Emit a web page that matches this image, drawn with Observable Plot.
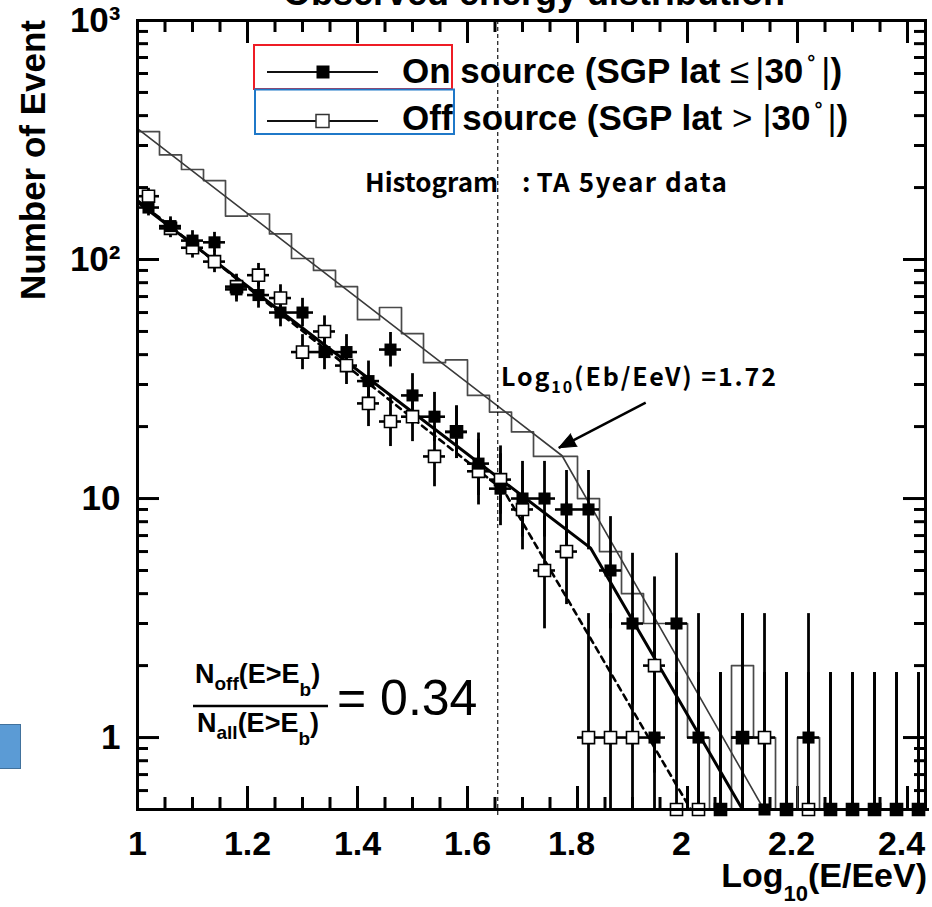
<!DOCTYPE html>
<html><head><meta charset="utf-8">
<script src="https://cdn.jsdelivr.net/npm/d3@7"></script>
<script src="https://cdn.jsdelivr.net/npm/@observablehq/plot@0.6"></script>
<style>
body{margin:0;background:#fff;}
#wrap{position:relative;width:932px;height:907px;overflow:hidden;background:#fff;}
#badge{position:absolute;left:0;top:724px;width:21px;height:45px;background:#5b9bd5;border:1.5px solid #41719c;border-left:none;box-sizing:border-box;}
</style></head><body>
<div id="wrap"><div id="chart"></div><div id="badge"></div></div>
<script>
// ---- data ----
const binEdges = [1.00,1.04,1.08,1.12,1.16,1.20,1.24,1.28,1.32,1.36,1.40,1.44,1.48,1.52,1.56,1.60,1.64,1.68,1.72,1.76,1.80,1.84,1.88,1.92,1.96,2.00,2.04,2.08,2.12,2.16,2.20,2.24,2.28,2.32,2.36,2.40,2.44];
const binCenters = [1.02,1.06,1.10,1.14,1.18,1.22,1.26,1.30,1.34,1.38,1.42,1.46,1.50,1.54,1.58,1.62,1.66,1.70,1.74,1.78,1.82,1.86,1.90,1.94,1.98,2.02,2.06,2.10,2.14,2.18,2.22,2.26,2.30,2.34,2.38,2.42];
const histCounts = [343,274,238,214,152,155,128,101,90,77,56,63,49,37,38,27,23,19,15,15,10,6,4,3,3,1,0,2,1,0,1,0,0,0,0,0];
const onCounts  = [165,138,120,118,75,71,60,60,41,41,31,42,27,22,19,14,11,10,10,9,9,5,3,1,3,1,0,1,0,0,1,0,0,0,0,0];
const onErrLow  = [152.2,126.3,109.1,107.2,66.4,62.6,52.3,52.3,34.6,34.6,25.5,35.5,21.8,17.3,14.7,10.3,7.7,6.9,6.9,6.1,6.1,2.85,1.37,0.17,1.37,0.17,0,0.17,0,0,0.17,0,0,0,0,0];
const onErrHigh = [178.9,150.8,132.0,129.9,84.7,80.5,68.8,68.8,48.5,48.5,37.6,49.5,33.3,27.8,24.4,18.8,15.4,14.3,14.3,13.1,13.1,8.4,5.9,3.3,5.9,3.3,1.87,3.3,1.87,1.87,3.3,1.87,1.87,1.87,1.87,1.87];
const offCounts  = [184,135,112,98,77,86,69,41,50,36,25,21,22,15,19,13,12,9,5,6,1,1,1,2,0,0,0,1,1,0,0,0,0,0,0,0];
const offErrLow  = [170.5,123.4,101.4,88.1,68.2,76.7,60.7,34.6,43.0,30.0,20.0,16.5,17.3,11.2,14.7,9.4,8.6,6.1,2.85,3.6,0.17,0.17,0.17,0.71,0,0,0,0.17,0.17,0,0,0,0,0,0,0];
const offErrHigh = [198.6,147.7,123.6,108.9,86.8,96.3,78.4,48.5,58.1,43.1,31.1,26.7,27.8,20.0,24.4,17.7,16.6,13.1,8.4,9.6,3.3,3.3,3.3,4.7,1.87,1.87,1.87,3.3,3.3,1.87,1.87,1.87,1.87,1.87,1.87,1.87];
// broken power-law fits (vertices)
const histFitX = [1.000, 1.772, 2.139];
const histFitY = [353, 15.1, 0.5];
const onFitX = [1.000, 1.824, 2.100];
const onFitY = [174, 6.2, 0.5];
const offFitX = [1.000, 1.666, 2.006];
const offFitY = [177, 10.8, 0.5];
const breakLineX = [1.655];
const arrowFrom = [1.924, 25.2];
const arrowTo = [1.766, 16.3];
// axes
const xMajorTicks = [1,1.2,1.4,1.6,1.8,2.0,2.2,2.4];
const xTickLabels = ["1","1.2","1.4","1.6","1.8","2","2.2","2.4"];
const xMinorTicks = [1.05,1.1,1.15,1.25,1.3,1.35,1.45,1.5,1.55,1.65,1.7,1.75,1.85,1.9,1.95,2.05,2.1,2.15,2.25,2.3,2.35];
const yMajorTicks = [1,10,100,1000];
const yTickLabels = ["1","10","10\u00B2","10\u00B3"];
const yMinorTicks = [0.6,0.7,0.8,0.9,2,3,4,5,6,7,8,9,20,30,40,50,60,70,80,90,200,300,400,500,600,700,800,900];
const yFloor = 0.5;

// ---- derived tables ----
const W = 932, H = 907, mL = 137, mR = 7, mT = 20, mB = 98;
const plotW = W - mL - mR, plotH = H - mT - mB;
const histSteps = binEdges.map((e, i) => ({x: e, y: Math.max(histCounts[Math.min(i, histCounts.length - 1)], yFloor)}));
const pts = (c, lo, hi) => binCenters.map((x, i) => ({x, x1: binEdges[i], x2: binEdges[i + 1], y: Math.max(c[i], yFloor), lo: Math.max(lo[i], yFloor), hi: hi[i]}));
const onPts = pts(onCounts, onErrLow, onErrHigh);
const offPts = pts(offCounts, offErrLow, offErrHigh);
const fit = (X, Y) => X.map((x, i) => ({x, y: Y[i]}));
const arrow = [{x1: arrowFrom[0], y1: arrowFrom[1], x2: arrowTo[0], y2: arrowTo[1]}];
const xLabels = xMajorTicks.map((v, i) => ({v, t: xTickLabels[i]}));

const chart = Plot.plot({
  width: W, height: H,
  marginLeft: mL, marginRight: mR, marginTop: mT, marginBottom: mB,
  style: {fontFamily: "'Liberation Sans', Arial, sans-serif", background: "white"},
  x: {domain: [1, 2.4327], axis: null},
  y: {type: "log", domain: [0.5, 1000], axis: null},
  marks: [
    // ticks (inside the frame)
    Plot.ruleX(xMajorTicks, {insetTop: plotH - 23, strokeWidth: 3}),
    Plot.ruleX(xMajorTicks, {insetBottom: plotH - 23, strokeWidth: 3}),
    Plot.ruleX(xMinorTicks, {insetTop: plotH - 12, strokeWidth: 3}),
    Plot.ruleX(xMinorTicks, {insetBottom: plotH - 12, strokeWidth: 3}),
    Plot.ruleY(yMajorTicks, {insetRight: plotW - 22, strokeWidth: 3}),
    Plot.ruleY(yMajorTicks, {insetLeft: plotW - 22, strokeWidth: 3}),
    Plot.ruleY(yMinorTicks, {insetRight: plotW - 11, strokeWidth: 3}),
    Plot.ruleY(yMinorTicks, {insetLeft: plotW - 11, strokeWidth: 3}),
    // histogram + fits
    Plot.line(histSteps, {x: "x", y: "y", curve: "step-after", stroke: "#4a4a4a", strokeWidth: 1.7, clip: true}),
    Plot.line(fit(histFitX, histFitY), {x: "x", y: "y", stroke: "#3a3a3a", strokeWidth: 1.6}),
    Plot.ruleX(breakLineX, {strokeDasharray: "4,3", strokeWidth: 1.1, insetBottom: -9}),
    Plot.line(fit(offFitX, offFitY), {x: "x", y: "y", stroke: "black", strokeWidth: 2.6, strokeDasharray: "6,5"}),
    Plot.line(fit(onFitX, onFitY), {x: "x", y: "y", stroke: "black", strokeWidth: 3}),
    // error bars
    Plot.ruleX(offPts, {x: "x", y1: "lo", y2: "hi", strokeWidth: 2.8}),
    Plot.ruleY(offPts, {y: "y", x1: "x1", x2: "x2", strokeWidth: 2.6}),
    Plot.ruleX(onPts, {x: "x", y1: "lo", y2: "hi", strokeWidth: 2.8}),
    Plot.ruleY(onPts, {y: "y", x1: "x1", x2: "x2", strokeWidth: 2.6}),
    // markers
    Plot.dot(offPts, {x: "x", y: "y", symbol: "square", r: 6.8, fill: "white", stroke: "black", strokeWidth: 1.6}),
    Plot.dot(onPts, {x: "x", y: "y", symbol: "square", r: 6.8, fill: "black", stroke: "none"}),
    // arrow to the break
    Plot.link(arrow, {x1: "x1", y1: "y1", x2: "x2", y2: "y2", stroke: "black", strokeWidth: 2.5}),
    Plot.vector(arrow, {x: "x2", y: "y2", rotate: 242.7, length: 17, shape: "spike", r: 7, anchor: "end", fill: "black", stroke: "black", strokeWidth: 1}),
    // tick labels
    Plot.text(yMajorTicks, {y: d => d, text: (d, i) => yTickLabels[i], frameAnchor: "left", textAnchor: "end", dx: -17, fontSize: 35, fontWeight: "bold"}),
    Plot.text(xLabels.filter(d => d.v < 1.7), {x: "v", text: "t", frameAnchor: "bottom", lineAnchor: "top", dy: 21, fontSize: 34, fontWeight: "bold"}),
    Plot.text(xLabels.filter(d => d.v > 1.7), {x: "v", text: "t", frameAnchor: "bottom", lineAnchor: "top", dy: 21, dx: -6, fontSize: 34, fontWeight: "bold"}),
    Plot.frame({strokeWidth: 3})
  ]
});
document.getElementById("chart").appendChild(chart);

// ---- annotations ----
const svg = d3.select(chart);
const g = svg.append("g").attr("font-family", "'Liberation Sans', Arial, sans-serif").attr("fill", "black");
function label(x, y, parts, opts = {}) {
  const t = g.append("text").attr("x", x).attr("y", y)
    .attr("font-size", opts.size || 30).attr("font-weight", opts.weight || "normal")
    .attr("text-anchor", opts.anchor || "start");
  if (opts.family) t.attr("font-family", opts.family);
  if (opts.transform) t.attr("transform", opts.transform);
  if (opts.spacing) t.attr("letter-spacing", opts.spacing);
  for (const p of parts) {
    const s = t.append("tspan").text(p.t);
    if (p.dy) s.attr("dy", p.dy);
    if (p.dx) s.attr("dx", p.dx);
    if (p.size) s.attr("font-size", p.size);
    if (p.weight) s.attr("font-weight", p.weight);
    if (p.spacing) s.attr("letter-spacing", p.spacing);
  }
  return t;
}
// title (cut off at the top, as in the reference)
label(534, 5, [{t: "Observed energy distribution"}], {size: 36, weight: "bold", anchor: "middle"});
// axis titles
label(0, 0, [{t: "Number of Event"}], {size: 35, weight: "bold", anchor: "middle", transform: "translate(45,160) rotate(-90)"});
label(927, 887, [{t: "Log"}, {t: "10", size: 22, dy: 14}, {t: "(E/EeV)", dy: -14}], {size: 34, weight: "bold", anchor: "end"});
// legend
g.append("rect").attr("x", 254).attr("y", 45).attr("width", 198).attr("height", 44).attr("fill", "none").attr("stroke", "#ee1c25").attr("stroke-width", 2);
g.append("rect").attr("x", 255).attr("y", 89.5).attr("width", 199).attr("height", 44.5).attr("fill", "none").attr("stroke", "#1f78c8").attr("stroke-width", 2);
g.append("line").attr("x1", 267).attr("x2", 378).attr("y1", 72).attr("y2", 72).attr("stroke", "#111").attr("stroke-width", 2.2);
g.append("rect").attr("x", 316.5).attr("y", 65.5).attr("width", 13).attr("height", 13).attr("fill", "black");
g.append("line").attr("x1", 267).attr("x2", 378).attr("y1", 121).attr("y2", 121).attr("stroke", "#111").attr("stroke-width", 2.2);
g.append("rect").attr("x", 316).attr("y", 114.5).attr("width", 13).attr("height", 13).attr("fill", "white").attr("stroke", "#333").attr("stroke-width", 1.5);
label(402, 83, [{t: "On source (SGP lat "}, {t: "\u2264", weight: "normal"}, {t: "|", weight: "normal", dx: 6}, {t: "30"}, {t: "\u00B0", size: 20, dy: -14, dx: 4}, {t: "|", weight: "normal", dy: 14, dx: 6}, {t: ")"}], {size: 35, weight: "bold"});
label(402, 130, [{t: "Off source (SGP lat "}, {t: ">", weight: "normal"}, {t: "|", weight: "normal", dx: 10}, {t: "30"}, {t: "\u00B0", size: 20, dy: -14, dx: 4}, {t: "|", weight: "normal", dy: 14, dx: 5}, {t: ")"}], {size: 35, weight: "bold"});
// text annotations
const jp = "'Noto Sans CJK JP', 'Noto Sans', sans-serif";
label(365, 192, [{t: "Histogram"}, {t: ":", dx: 24}, {t: "TA 5year data", dx: 6, spacing: 1.5}], {size: 26, family: jp, weight: "bold"});
label(501, 386, [{t: "Log"}, {t: "10", size: 16, dy: 7}, {t: "(Eb/EeV) =1.72", dy: -7}], {size: 25, family: jp, weight: "bold", spacing: 1.9});
// ratio formula
label(195, 683, [{t: "N"}, {t: "off", size: 19, dy: 7}, {t: "(E>E", dy: -7}, {t: "b", size: 19, dy: 13}, {t: ")", dy: -13}], {size: 27, weight: "bold"});
g.append("line").attr("x1", 193).attr("x2", 328).attr("y1", 706).attr("y2", 706).attr("stroke", "black").attr("stroke-width", 2.5);
label(197, 732, [{t: "N"}, {t: "all", size: 19, dy: 7}, {t: "(E>E", dy: -7}, {t: "b", size: 19, dy: 13}, {t: ")", dy: -13}], {size: 27, weight: "bold"});
label(337, 715, [{t: "= 0.34"}], {size: 50});
</script>
</body></html>
